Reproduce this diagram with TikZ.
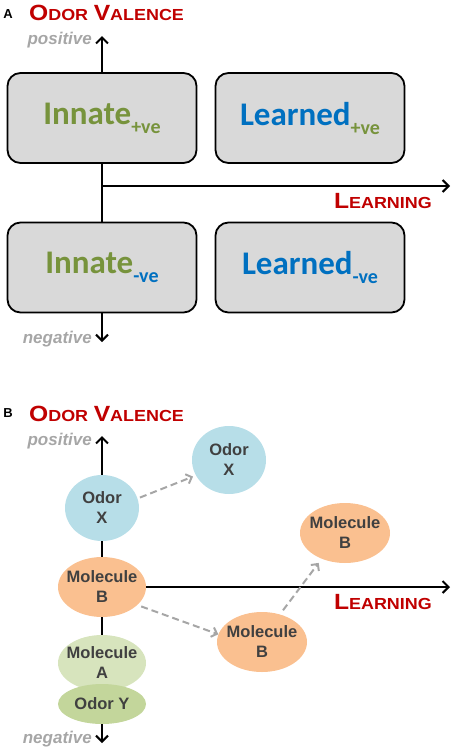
\documentclass[tikz,border=0pt]{standalone}
\usepackage{fontspec}
\usepackage{graphicx}
\setmainfont{Liberation Sans}
\newfontfamily\calfont{Carlito}
\usetikzlibrary{shapes.geometric,arrows.meta}
\definecolor{valred}{HTML}{C00000}
\definecolor{axisgray}{HTML}{A6A6A6}
\definecolor{innategreen}{HTML}{77933C}
\definecolor{learnblue}{HTML}{0070C0}
\definecolor{boxgray}{HTML}{D9D9D9}
\definecolor{odorblue}{HTML}{B7DEE8}
\definecolor{molorange}{HTML}{FAC090}
\definecolor{molgreen}{HTML}{D7E4BD}
\definecolor{odorgreen}{HTML}{C3D69B}
\definecolor{labeltext}{HTML}{404040}
\newcommand{\scword}[2]{{\fontsize{22}{22}\selectfont #1}{\fontsize{16}{16}\selectfont #2}}
\newcommand{\valtitle}{\scalebox{1.12}[1]{\scword{O}{DOR}\hspace{5pt}\scword{V}{ALENCE}}}
\newcommand{\learntitle}{\scalebox{1.12}[1]{\scword{L}{EARNING}}}
\newcommand{\boxlabel}[4]{\textcolor{#1}{\fontsize{33}{33}\selectfont #2}\raisebox{-9pt}{\textcolor{#3}{\fontsize{20}{20}\selectfont #4}}}
\begin{document}
\begin{tikzpicture}[x=1pt,y=-1pt,
    axis/.style={line width=2pt,-{Straight Barb[length=6pt,width=12pt]}},
    axisline/.style={line width=2pt},
    valbox/.style={draw,line width=1.8pt,rounded corners=13pt,fill=boxgray,
      minimum width=189pt,minimum height=90pt,inner sep=0pt,font=\calfont\bfseries},
    blob/.style={ellipse,inner xsep=-7pt,inner ysep=0pt,align=center,text=labeltext,
      font=\bfseries\fontsize{16.5}{20}\selectfont},
    shiftarrow/.style={draw=axisgray,line width=2pt,dash pattern=on 7pt off 4pt,
      -{Straight Barb[length=5pt,width=10pt]}},
    title/.style={anchor=base west,inner sep=0pt,text=valred,font=\bfseries},
    learn/.style={anchor=base east,inner sep=0pt,text=valred,font=\bfseries},
    pole/.style={anchor=base east,inner sep=0pt,text=axisgray,
      font=\bfseries\itshape\fontsize{17}{17}\selectfont},
    panel/.style={font=\bfseries\fontsize{13}{13}\selectfont}]
  \useasboundingbox (0,0) rectangle (454,750);
  % panel A
  \draw (8,14) node[panel] (panelA) {A};
  \draw (29,20) node[title] (valA) {\valtitle};
  \draw (92,44) node[pole] (posA) {positive};
  \draw (92,343) node[pole] (negA) {negative};
  \draw (432,208) node[learn] (learnA) {\learntitle};
  \draw (102,118) node[valbox] (IP)
    {\boxlabel{innategreen}{Innate}{innategreen}{+ve}};
  \draw (310,118) node[valbox] (LP)
    {\boxlabel{learnblue}{Learned}{innategreen}{+ve}};
  \draw (102,267.5) node[valbox] (IN)
    {\boxlabel{innategreen}{Innate}{learnblue}{-ve}};
  \draw (310,267.5) node[valbox] (LN)
    {\boxlabel{learnblue}{Learned}{learnblue}{-ve}};
  \coordinate (Atop) at (102,36);
  \coordinate (Abot) at (102,342);
  \coordinate (Aorig) at (102,186);
  \coordinate (Aright) at (450,186);
  \draw[axis] (IP) -- (Atop);
  \draw[axisline] (IP) -- (IN);
  \draw[axis] (IN) -- (Abot);
  \draw[axis] (Aorig) -- (Aright);
  % panel B
  \draw (8,413) node[panel] (panelB) {B};
  \draw (29,421) node[title] (valB) {\valtitle};
  \draw (92,445) node[pole] (posB) {positive};
  \draw (92,743) node[pole] (negB) {negative};
  \draw (432,609) node[learn] (learnB) {\learntitle};
  \draw (102,508) node[blob,fill=odorblue,minimum width=74pt,
    minimum height=66pt] (OXa) {Odor\\X};
  \draw (229,460) node[blob,fill=odorblue,minimum width=74pt,
    minimum height=68pt] (OXb) {Odor\\X};
  \draw (345,533) node[blob,fill=molorange,minimum width=90pt,
    minimum height=60pt] (MBc) {Molecule\\B};
  \draw (102,587) node[blob,fill=molorange,minimum width=88pt,
    minimum height=60pt] (MBa) {Molecule\\B};
  \draw (262,642) node[blob,fill=molorange,minimum width=90pt,
    minimum height=60pt] (MBb) {Molecule\\B};
  \draw (102,663) node[blob,fill=molgreen,minimum width=88pt,
    minimum height=56pt] (MA) {Molecule\\A};
  \draw (102,704) node[blob,fill=odorgreen,minimum width=88pt,
    minimum height=40pt] (OY) {Odor Y};
  \coordinate (Btop) at (102,436);
  \coordinate (Bbot) at (102,743);
  \coordinate (Bright) at (450,587);
  \draw[axis] (OXa) -- (Btop);
  \draw[axisline] (OXa) -- (MBa);
  \draw[axisline] (MBa) -- (MA);
  \draw[axis] (OY) -- (Bbot);
  \draw[axis] (MBa) -- (Bright);
  \draw[shiftarrow,shorten <=2.5pt,shorten >=3pt] (OXa.15) -- (OXb.205);
  \draw[shiftarrow,shorten <=4pt] (MBa.-27) -- (MBb.170);
  \draw[shiftarrow,shorten <=5pt,shorten >=5pt] (MBb.57) -- (MBc.-132);
\end{tikzpicture}
\end{document}
